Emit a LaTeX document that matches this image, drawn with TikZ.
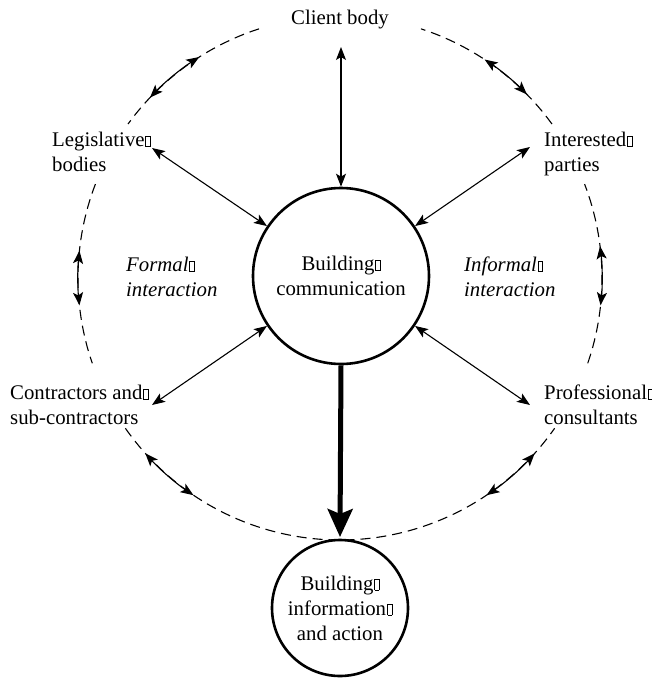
\documentclass[tikz,border=0pt]{standalone}
\usepackage{fontspec}
\setmainfont{Liberation Serif}
\usetikzlibrary{arrows.meta}

% small empty box printed where a line-break character has no glyph
\newcommand\emptyglyph{\hbox{\kern0.8pt\vrule width 0.6pt\vbox to 11pt{\hrule width 4pt height 0.6pt\vfill\hrule width 4pt height 0.6pt}\vrule width 0.6pt}}

\tikzset{
  lbl/.style={inner sep=0pt, align=left, font=\rmfamily\fontsize{20.8}{25}\selectfont},
  ilbl/.style={lbl, font=\rmfamily\fontsize{20.8}{25}\selectfont\itshape},
  hub/.style={circle, draw, line width=2.6pt, inner sep=0pt, align=center,
              font=\rmfamily\fontsize{20.8}{25}\selectfont},
  link/.style={line width=1.1pt,
               {Stealth[length=13pt,width=10pt,inset=3pt]}-{Stealth[length=13pt,width=10pt,inset=3pt]}},
  orbit/.style={line width=1.1pt, dash pattern=on 10pt off 6pt},
  mainflow/.style={line width=5pt, -{Stealth[length=28pt,width=25pt,inset=5pt]}},
}

\begin{document}
\begin{tikzpicture}[x=1pt,y=-1pt]
\useasboundingbox (0,0) rectangle (652,678);

% centre of the dashed ring
\coordinate (c) at (340,278);

% circles
\node[hub, minimum size=176pt] (comm) at (341,276) {Building\emptyglyph\\communication};
\node[hub, minimum size=136pt] (info) at (340,608) {Building\emptyglyph\\information\emptyglyph\\and action};

% parties around the ring
\node[lbl, anchor=north] (client) at (340,10) {Client body};
\node[lbl, anchor=north west] (leg) at (52,132) {Legislative\emptyglyph\\bodies};
\node[lbl, anchor=north west] (intp) at (544,132) {Interested\emptyglyph\\parties};
\node[lbl, anchor=north west] (contr) at (10,385) {Contractors and\emptyglyph\\sub-contractors};
\node[lbl, anchor=north west] (prof) at (544,385) {Professional\emptyglyph\\consultants};

% interaction labels
\node[ilbl, anchor=north west] (formal) at (126,257) {Formal\emptyglyph\\interaction};
\node[ilbl, anchor=north west] (informal) at (464,257) {Informal\emptyglyph\\interaction};

% free ends of the radial connectors
\coordinate (clientEnd) at (341,47);
\coordinate (legEnd) at (152,148);
\coordinate (intpEnd) at (530,147);
\coordinate (contrEnd) at (152,405);
\coordinate (profEnd) at (530,405);
\coordinate (flowEnd) at (340,537);

% radial connectors
\draw[link] (clientEnd) -- (comm.north);
\draw[link] (legEnd) -- (comm.146);
\draw[link] (intpEnd) -- (comm.34);
\draw[link] (contrEnd) -- (comm.214);
\draw[link] (profEnd) -- (comm.326);
\draw[mainflow] (comm.south) -- (flowEnd);

% dashed ring, broken around the labels
\draw[orbit] (c) ++(-108:262) arc[start angle=-108, end angle=-144, radius=262];
\draw[orbit] (c) ++(-159:262) arc[start angle=-159, end angle=-199, radius=262];
\draw[orbit] (c) ++(-215:262) arc[start angle=-215, end angle=-325, radius=262];
\draw[orbit] (c) ++(-341:262) arc[start angle=-341, end angle=-381, radius=262];
\draw[orbit] (c) ++(-36:262) arc[start angle=-36, end angle=-72, radius=262];

% ends of the arrows along the ring
\path (c) ++(-122.5:262) coordinate (tl1) (c) ++(-136.5:262) coordinate (tl2);
\path (c) ++(-174:262) coordinate (ml1) (c) ++(-186:262) coordinate (ml2);
\path (c) ++(-222:262) coordinate (bl1) (c) ++(-236:262) coordinate (bl2);
\path (c) ++(-304:262) coordinate (br1) (c) ++(-318:262) coordinate (br2);
\path (c) ++(-354:262) coordinate (mr1) (c) ++(-367:262) coordinate (mr2);
\path (c) ++(-44.5:262) coordinate (tr1) (c) ++(-56.5:262) coordinate (tr2);

% arrows along the ring
\draw[link] (tl1) arc[start angle=-122.5, end angle=-136.5, radius=262];
\draw[link] (ml1) arc[start angle=-174, end angle=-186, radius=262];
\draw[link] (bl1) arc[start angle=-222, end angle=-236, radius=262];
\draw[link] (br1) arc[start angle=-304, end angle=-318, radius=262];
\draw[link] (mr1) arc[start angle=-354, end angle=-367, radius=262];
\draw[link] (tr1) arc[start angle=-44.5, end angle=-56.5, radius=262];
\end{tikzpicture}
\end{document}
